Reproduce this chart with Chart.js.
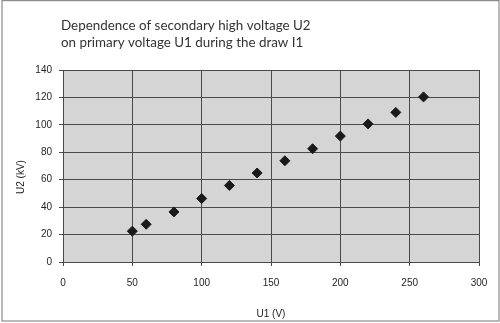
<!DOCTYPE html>
<html>
<head>
<meta charset="utf-8">
<script src="https://cdn.jsdelivr.net/npm/chart.js@4/dist/chart.umd.min.js"></script>
<style>
  html, body { margin: 0; padding: 0; background: #ffffff; }
  canvas { display: block; }
</style>
</head>
<body>
<canvas id="chart" width="500" height="323"></canvas>
<script>
// Primary voltage U1 (V) and the measured secondary high voltage U2 (kV)
const u1Values = [50, 60, 80, 100, 120, 140, 160, 180, 200, 220, 240, 260];
const u2Values = [22.5, 27.5, 36.5, 46.3, 55.8, 64.9, 73.8, 82.6, 91.8, 100.7, 109.1, 120.4];

const titleLines = [
  'Dependence of secondary high voltage U2',
  'on primary voltage U1 during the draw I1'
];
const xAxisTitle = 'U1 (V)';
const yAxisTitle = 'U2 (kV)';

const points = u1Values.map((x, i) => ({ x: x, y: u2Values[i] }));

const tickFont = { family: '"Liberation Sans", Arial, sans-serif', size: 10 };
const gridColor = '#4a4a4a';

// Outer frame, plot background, heading and the vertical axis caption
const decorations = {
  id: 'decorations',
  beforeDraw(chart) {
    const ctx = chart.ctx;
    const a = chart.chartArea;
    ctx.save();
    ctx.fillStyle = '#ffffff';
    ctx.fillRect(0, 0, chart.width, chart.height);
    ctx.strokeStyle = '#8c8c8c';
    ctx.lineWidth = 1.2;
    ctx.strokeRect(2, 0.6, 497, 320.4);
    ctx.fillStyle = '#d5d5d5';
    ctx.fillRect(a.left, a.top, a.right - a.left, a.bottom - a.top);
    ctx.restore();
  },
  afterDraw(chart) {
    const ctx = chart.ctx;
    ctx.save();
    ctx.fillStyle = '#333333';
    ctx.font = '13.4px Lato, "Open Sans", sans-serif';
    ctx.textAlign = 'left';
    ctx.textBaseline = 'alphabetic';
    ctx.fillText(titleLines[0], 61, 30);
    ctx.fillText(titleLines[1], 61, 46.7);

    ctx.fillStyle = '#1e1e1e';
    ctx.font = '10px "Liberation Sans", Arial, sans-serif';
    ctx.textAlign = 'center';
    ctx.textBaseline = 'middle';
    ctx.translate(21, 177);
    ctx.rotate(-Math.PI / 2);
    ctx.fillText(yAxisTitle, 0, 0);
    ctx.restore();
  }
};

new Chart(document.getElementById('chart'), {
  type: 'scatter',
  data: {
    datasets: [{
      data: points,
      pointStyle: 'rectRot',
      pointRadius: 5,
      pointHoverRadius: 5,
      pointBackgroundColor: '#1a1a1a',
      pointBorderColor: '#1a1a1a',
      pointBorderWidth: 1,
      showLine: false
    }]
  },
  options: {
    responsive: false,
    devicePixelRatio: 1,
    animation: false,
    events: [],
    layout: { padding: { top: 70, right: 21, bottom: 0, left: 0 } },
    plugins: {
      legend: { display: false },
      title: { display: false },
      tooltip: { enabled: false }
    },
    scales: {
      x: {
        type: 'linear',
        min: 0,
        max: 300,
        ticks: { stepSize: 50, color: '#1e1e1e', font: tickFont, padding: 11, maxRotation: 0 },
        grid: { color: gridColor, lineWidth: 1, tickLength: 4, drawTicks: true },
        border: { display: true, color: gridColor, width: 1 },
        title: { display: true, text: xAxisTitle, color: '#1e1e1e', font: tickFont, padding: { top: 4, bottom: 3 } },
        afterFit(scale) { scale.height = 61; }
      },
      y: {
        type: 'linear',
        min: 0,
        max: 140,
        ticks: { stepSize: 20, color: '#1e1e1e', font: tickFont, padding: 7 },
        grid: { color: gridColor, lineWidth: 1, tickLength: 4, drawTicks: true },
        border: { display: true, color: gridColor, width: 1 },
        afterFit(scale) { scale.width = 63; }
      }
    }
  },
  plugins: [decorations]
});
</script>
</body>
</html>
